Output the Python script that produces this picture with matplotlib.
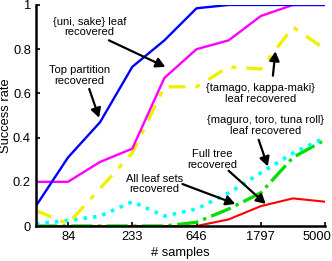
import numpy as np
import matplotlib
matplotlib.use("Agg")
import matplotlib.pyplot as plt
import matplotlib.transforms as mtransforms

plt.rcParams["font.family"] = ["Liberation Sans", "DejaVu Sans"]

# sample sizes (log-spaced 50..5000)
samples = [50, 83.4, 139.1, 232.1, 387.3, 646.2, 1078, 1798, 3000, 5000]
tick_vals = [84, 233, 646, 1797, 5000]
tick_labels = ["84", "233", "646", "1797", "5000"]

top_partition = [0.09, 0.31, 0.47, 0.72, 0.84, 0.985, 1.0, 1.0, 1.0, 1.0]
uni_sake      = [0.20, 0.20, 0.29, 0.35, 0.67, 0.80, 0.84, 0.95, 1.0, 1.0]
tamago        = [0.07, 0.01, 0.17, 0.33, 0.63, 0.63, 0.72, 0.71, 0.90, 0.80]
maguro        = [0.01, 0.025, 0.045, 0.11, 0.045, 0.077, 0.15, 0.24, 0.33, 0.40]
all_leaf      = [0.0, 0.0, 0.0, 0.0, 0.0, 0.017, 0.077, 0.15, 0.31, 0.39]
full_tree     = [0.0, 0.0, 0.0, 0.0, 0.0, 0.0, 0.03, 0.09, 0.125, 0.11]

fig = plt.figure(figsize=(3.32, 2.61), dpi=100)
ax = fig.add_axes([0.108, 0.134, 0.871, 0.847])

ax.plot(samples, full_tree, color="#ff0000", lw=1.5)
ax.plot(samples, all_leaf, color="#00e000", lw=2.4, ls="-.")
ax.plot(samples, maguro, color="#00ffff", lw=2.6, ls=":")
ax.plot(samples, tamago, color="#f0f000", lw=2.4, ls=(0, (5, 3, 1.5, 3)))
ax.plot(samples, uni_sake, color="#ff00ff", lw=1.7)
ax.plot(samples, top_partition, color="#0000ff", lw=1.7)

ax.set_xscale("log")
ax.set_xlim(50, 5000)
ax.set_ylim(0, 1)
ax.set_xticks(tick_vals)
ax.set_xticklabels(tick_labels)
ax.minorticks_off()
ax.set_yticks([0, 0.2, 0.4, 0.6, 0.8, 1])
ax.set_yticklabels(["0", "0.2", "0.4", "0.6", "0.8", "1"])
ax.tick_params(direction="in", labelsize=9.3, width=1.2, length=3, pad=3.5)
# last tick label sits to the left of its tick, as in the original
last = ax.get_xticklabels()[-1]
last.set_transform(last.get_transform() +
                   mtransforms.ScaledTranslation(-8 / 100, 0, fig.dpi_scale_trans))
for s in ["top", "right"]:
    ax.spines[s].set_visible(False)
for s in ["left", "bottom"]:
    ax.spines[s].set_linewidth(1.8)
ax.set_ylabel("Success rate", fontsize=9.3, labelpad=1)
ax.set_xlabel("# samples", fontsize=9.3, labelpad=3)

arrow = dict(arrowstyle="-|>,head_length=0.55,head_width=0.3", color="black", lw=1.6,
             shrinkA=0, shrinkB=0)
notes = [
    ("{uni, sake} leaf\nrecovered", (117, 0.90), (393, 0.72), (160, 0.84)),
    ("Top partition\nrecovered", (100, 0.68), (137, 0.49), (117, 0.62)),
    ("{tamago, kappa-maki}\nleaf recovered", (1797, 0.60), (2270, 0.79), (2180, 0.68)),
    ("{maguro, toro, tuna roll}\nleaf recovered", (1945, 0.455), (2010, 0.27), (1737, 0.39)),
    ("Full tree\nrecovered", (834, 0.30), (1945, 0.10), (1077, 0.25)),
    ("All leaf sets\nrecovered", (330, 0.19), (1197, 0.10), (516, 0.19)),
]
for txt, pos, head, tail in notes:
    ax.text(pos[0], pos[1], txt, ha="center", va="center", fontsize=8, linespacing=1.1)
    ax.annotate("", xy=head, xytext=tail, arrowprops=arrow)

fig.savefig("out.png", dpi=100)
